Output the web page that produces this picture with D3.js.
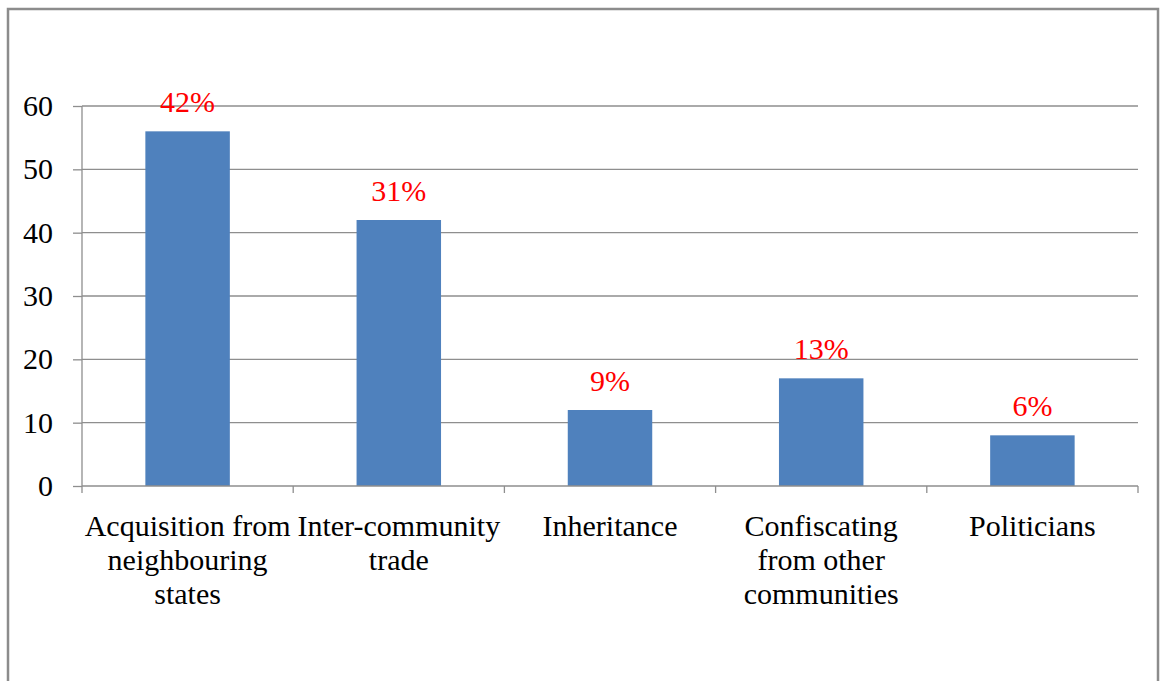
<!DOCTYPE html>
<html>
<head>
<meta charset="utf-8">
<script src="https://cdn.jsdelivr.net/npm/d3@7"></script>
</head>
<body style="margin:0;background:#fff">
<div id="grafico"></div>
<script>
// datos
var categorias=[["Acquisition from","neighbouring","states"],["Inter-community","trade"],["Inheritance"],["Confiscating","from other","communities"],["Politicians"]]
var valores=[56,42,12,17,8]
var etiquetas=["42%","31%","9%","13%","6%"]
var ticksY=[0,10,20,30,40,50,60]

var fuente="Liberation Serif"
var W=1160,H=681
var margin={top:106,left:82,right:22,bottom:195}
var ancho=W-margin.left-margin.right
var alto=H-margin.top-margin.bottom

var svg=d3.select("#grafico")
	.append("svg")
	.attr("width",W)
	.attr("height",H)
	.attr("font-family",fuente)

// marco exterior
svg.append("rect")
	.attr("x",8).attr("y",9)
	.attr("width",1150).attr("height",700)
	.style("fill","none")
	.style("stroke","#8c8c8c")
	.style("stroke-width",2.5)

var g=svg.append("g")
	.attr("transform","translate("+margin.left+","+margin.top+")")

var x=d3.scaleBand()
	.domain(d3.range(valores.length))
	.range([0,ancho])
	.paddingInner(0.6)
	.paddingOuter(0.3)

var y=d3.scaleLinear()
	.domain([0,60])
	.range([alto,0])

// lineas de grilla
g.selectAll("grid")
	.data(ticksY.filter(d=>d>0))
	.enter()
	.append("line")
	.attr("x1",0).attr("x2",ancho)
	.attr("y1",d=>y(d)).attr("y2",d=>y(d))
	.style("stroke","#8e8e8e")
	.style("stroke-width",1.3)

// eje y
var ejeY=g.append("g")
	.call(d3.axisLeft(y).tickValues(ticksY).tickSize(9).tickPadding(20))
ejeY.attr("font-family",fuente).attr("font-size",30)
ejeY.selectAll("line,path").style("stroke","#8e8e8e").style("stroke-width",1.3)
ejeY.select("path").attr("d","M0,"+alto+"V0")
ejeY.selectAll("text")
	.attr("font-family",fuente)
	.attr("fill","#000")

// barras
g.selectAll("barras")
	.data(valores)
	.enter()
	.append("rect")
	.attr("x",(d,i)=>x(i))
	.attr("y",d=>y(d))
	.attr("width",x.bandwidth())
	.attr("height",d=>alto-y(d))
	.style("fill","#4f81bd")

// eje x con ticks entre categorias
var bordes=d3.range(valores.length+1).map(i=>i*x.step())
g.append("line")
	.attr("x1",0).attr("x2",ancho)
	.attr("y1",alto).attr("y2",alto)
	.style("stroke","#8e8e8e").style("stroke-width",1.3)
g.selectAll("xticks")
	.data(bordes)
	.enter()
	.append("line")
	.attr("x1",d=>d).attr("x2",d=>d)
	.attr("y1",alto).attr("y2",alto+7)
	.style("stroke","#8e8e8e").style("stroke-width",1.3)

// etiquetas de categorias
g.selectAll("cats")
	.data(categorias)
	.enter()
	.append("text")
	.attr("text-anchor","middle")
	.attr("transform",(d,i)=>"translate("+(x(i)+x.bandwidth()/2)+","+(alto+50)+")")
	.attr("font-size",30)
	.attr("font-family",fuente)
	.attr("fill","#000")
	.each(function(d){
		d3.select(this).selectAll("tspan")
			.data(d)
			.enter()
			.append("tspan")
			.attr("x",0)
			.attr("dy",(t,k)=>k==0?0:34)
			.text(t=>t)
	})

// porcentajes
g.selectAll("pcts")
	.data(valores)
	.enter()
	.append("text")
	.attr("text-anchor","middle")
	.attr("x",(d,i)=>x(i)+x.bandwidth()/2)
	.attr("y",d=>y(d)-19)
	.attr("font-size",30)
	.attr("font-family",fuente)
	.attr("fill","#ff0000")
	.text((d,i)=>etiquetas[i])
</script>
</body>
</html>
